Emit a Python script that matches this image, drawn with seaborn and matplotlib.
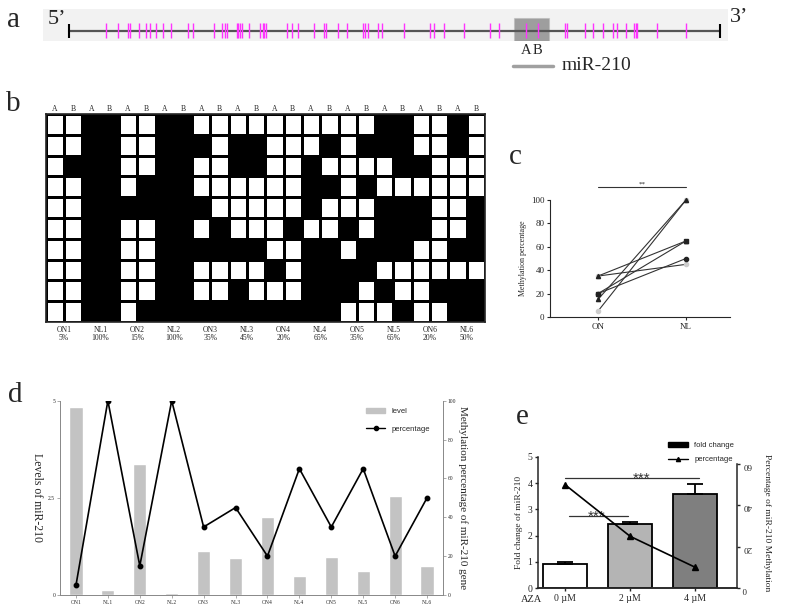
"""
Multi-panel figure: miR-210 promoter methylation and expression.
"""

import numpy as np
import matplotlib
matplotlib.use("Agg")
import matplotlib.pyplot as plt
from matplotlib.patches import Patch, Rectangle
from matplotlib.lines import Line2D
import seaborn as sns

# (a) CpG sites along the sequence (arbitrary units, 0-1000)
CPG_SITES = [56, 75, 90, 94, 107, 118, 125, 133, 144, 156, 182, 190, 222, 235, 239, 242,
             258, 260, 263, 266, 277, 294, 298, 300, 303, 334, 343, 351, 376, 392, 395,
             413, 427, 452, 455, 459, 474, 481, 515, 554, 561, 576, 606, 646, 661, 702,
             720, 761, 764, 793, 804, 820, 836, 841, 856, 868, 870, 873, 903, 948]
SEQ_LEN = 1000
MIR_REGION = (684, 737)
SITE_A, SITE_B = 702, 720

# (b) methylation status of sites A/B per clone (1 = methylated)
SAMPLES = ["ON1", "NL1", "ON2", "NL2", "ON3", "NL3", "ON4", "NL4", "ON5", "NL5", "ON6", "NL6"]
METH_PCT = [5, 100, 15, 100, 35, 45, 20, 65, 35, 65, 20, 50]
AB_LABELS = ["A", "B"] * 12
METH_MAP = [
    [0, 0, 1, 1, 0, 0, 1, 1, 0, 0, 0, 0, 0, 0, 0, 0, 0, 0, 1, 1, 0, 0, 1, 0],
    [0, 0, 1, 1, 0, 0, 1, 1, 1, 0, 1, 1, 0, 0, 0, 1, 0, 1, 1, 1, 0, 0, 1, 0],
    [0, 1, 1, 1, 0, 0, 1, 1, 0, 0, 1, 1, 0, 0, 1, 0, 0, 0, 0, 1, 1, 0, 0, 0],
    [0, 0, 1, 1, 0, 1, 1, 1, 0, 0, 0, 0, 0, 0, 1, 1, 0, 1, 0, 0, 0, 0, 0, 0],
    [0, 0, 1, 1, 1, 1, 1, 1, 1, 0, 0, 0, 0, 0, 1, 0, 0, 0, 1, 1, 1, 0, 0, 1],
    [0, 0, 1, 1, 0, 0, 1, 1, 0, 1, 0, 0, 0, 1, 0, 0, 1, 0, 1, 1, 1, 0, 0, 1],
    [0, 0, 1, 1, 0, 0, 1, 1, 1, 1, 1, 1, 0, 0, 1, 1, 0, 1, 1, 1, 0, 0, 1, 1],
    [0, 0, 1, 1, 0, 0, 1, 1, 0, 0, 0, 0, 1, 0, 1, 1, 1, 1, 0, 0, 0, 0, 0, 0],
    [0, 0, 1, 1, 0, 0, 1, 1, 0, 0, 1, 0, 0, 0, 1, 1, 1, 0, 1, 0, 0, 1, 1, 1],
    [0, 0, 1, 1, 0, 1, 1, 1, 1, 1, 1, 1, 1, 1, 1, 1, 0, 0, 0, 1, 0, 0, 1, 1],
]

# (c) paired ON / NL methylation
ON_PCT = [5, 15, 35, 20, 35, 20]
NL_PCT = [100, 100, 45, 65, 65, 50]
C_MARKERS = ["o", "^", "o", "s", "^", "o"]
C_FACES = ["#cccccc", "#222222", "#cccccc", "#222222", "#222222", "#222222"]

# (d) miR-210 levels per sample
MIR_LEVEL = [4.85, 0.12, 3.36, 0.04, 1.12, 0.94, 2.0, 0.49, 0.98, 0.61, 2.56, 0.74]

# (e) AZA treatment
AZA_DOSE = ["0 µM", "2 µM", "4 µM"]
FOLD = [0.93, 2.45, 3.58]
FOLD_ERR = [0.05, 0.08, 0.38]
AZA_METH = [50, 25, 10]
E_COLORS = ["#ffffff", "#b4b4b4", "#7f7f7f"]

sns.set_style("ticks")
plt.rcParams["font.family"] = ["Liberation Serif", "DejaVu Serif"]
SANS = ["Liberation Sans", "DejaVu Sans"]

W, H = 787, 611
fig = plt.figure(figsize=(W / 100, H / 100), dpi=100)


def px_axes(x0, y0, x1, y1):
    return fig.add_axes([x0 / W, 1 - y1 / H, (x1 - x0) / W, (y1 - y0) / H])


def panel_label(x, y, s):
    fig.text(x / W, 1 - y / H, s, fontsize=21, ha="center", va="center")


# ---- panel a
ax_a = px_axes(43, 9, 728, 41)
ax_a.set_facecolor("#f2f2f2")
ax_a.set_xlim(-40, 1012)
ax_a.set_ylim(0, 1)
for sp in ax_a.spines.values():
    sp.set_visible(False)
ax_a.set_xticks([])
ax_a.set_yticks([])
ax_a.plot([0, SEQ_LEN], [0.31, 0.31], color="#555555", lw=1.6)
ax_a.vlines(CPG_SITES, 0.09, 0.56, color="#ff33ff", lw=1.0)
ax_a.vlines([0, SEQ_LEN], 0.1, 0.52, color="black", lw=1.5)
ax_a.add_patch(Rectangle((MIR_REGION[0], 0), MIR_REGION[1] - MIR_REGION[0], 0.72,
                         facecolor="#666666", alpha=0.6, edgecolor="#bbbbbb", lw=0.8))
ax_a.text(SITE_A, -0.31, "A", ha="center", va="center", fontsize=10.5, clip_on=False)
ax_a.text(SITE_B, -0.31, "B", ha="center", va="center", fontsize=10.5, clip_on=False)
ax_a.plot([682, 743], [-0.78, -0.78], color="#a0a0a0", lw=2.5, clip_on=False)
ax_a.text(756, -0.78, "miR-210", ha="left", va="center", fontsize=14, clip_on=False)
fig.text(57 / W, 1 - 19 / H, "5\u2019", fontsize=16, ha="center", va="center")
fig.text(739 / W, 1 - 18 / H, "3\u2019", fontsize=16, ha="center", va="center")
panel_label(13, 20, "a")

# ---- panel b
ax_b = px_axes(45.7, 114, 485, 322)
sns.heatmap(np.array(METH_MAP), cmap=["white", "black"], vmin=0, vmax=1, cbar=False,
            linewidths=0.8, linecolor="black", xticklabels=AB_LABELS, yticklabels=False,
            ax=ax_b)
ax_b.xaxis.tick_top()
ax_b.tick_params(axis="x", length=0, labelsize=5.5, pad=1, rotation=0)
for sp in ax_b.spines.values():
    sp.set_visible(True)
    sp.set_linewidth(1.2)
for i, (name, p) in enumerate(zip(SAMPLES, METH_PCT)):
    ax_b.text(2 * i + 1, 10.2, f"{name}\n{p}%", ha="center", va="top",
              fontsize=5.5, linespacing=0.9)
panel_label(13, 104, "b")

# ---- panel c
ax_c = px_axes(550, 200, 730, 317)
for on, nl, m, fc in zip(ON_PCT, NL_PCT, C_MARKERS, C_FACES):
    ax_c.plot([0, 1], [on, nl], color="#333333", lw=0.8, marker=m, ms=3,
              mfc=fc, mec=fc, clip_on=False)
ax_c.set_xlim(-0.545, 1.5)
ax_c.set_ylim(0, 100)
ax_c.set_xticks([0, 1])
ax_c.set_xticklabels(["ON", "NL"])
ax_c.set_yticks(range(0, 101, 20))
ax_c.tick_params(labelsize=6.5, length=2.5, width=0.8, pad=1.5)
ax_c.set_ylabel("Methylation percentage", fontsize=5.8, labelpad=3)
sns.despine(ax=ax_c)
for sp in ax_c.spines.values():
    sp.set_linewidth(0.8)
ax_c.plot([0, 1], [111, 111], color="#333333", lw=0.8, clip_on=False)
ax_c.text(0.5, 111.5, "**", ha="center", va="bottom", fontsize=5, clip_on=False)
panel_label(515, 157, "c")

# ---- panel d
ax_d = px_axes(60, 400.7, 443, 595)
sns.barplot(x=SAMPLES, y=MIR_LEVEL, color="#c3c3c3", width=0.41, saturation=1, ax=ax_d)
ax_d.set_xlim(-0.5, 11.5)
ax_d.set_ylim(0, 5)
ax_d.set_yticks([0, 2.5, 5])
ax_d.set_yticklabels(["0", "2.5", "5"])
ax_d.tick_params(labelsize=4, length=2, width=0.5, pad=1.5, color="#888888")
ax_d.set_ylabel("Levels of miR-210", rotation=270, fontsize=8.5)
ax_d.yaxis.set_label_coords(-0.075, 0.5)
ax_d2 = ax_d.twinx()
ax_d2.plot(range(len(SAMPLES)), METH_PCT, color="black", lw=1.2, marker="o", ms=3.2)
ax_d2.set_ylim(0, 100)
ax_d2.set_yticks(range(0, 101, 20))
ax_d2.tick_params(labelsize=4, length=2, width=0.5, pad=1.5, color="#888888")
ax_d2.set_ylabel("Methylation percentage of miR-210 gene", rotation=270, fontsize=8)
ax_d2.yaxis.set_label_coords(1.065, 0.5)
for a in (ax_d, ax_d2):
    a.spines["top"].set_visible(False)
    for sp in ("left", "right", "bottom"):
        a.spines[sp].set_linewidth(0.6)
        a.spines[sp].set_color("#888888")
ax_d2.legend(handles=[Patch(color="#c3c3c3", label="level"),
                      Line2D([], [], color="black", marker="o", ms=3, lw=1, label="percentage")],
             loc="upper left", bbox_to_anchor=(0.78, 1.0), frameon=False,
             prop=dict(family=SANS, size=5.5), handlelength=2.6, labelspacing=1.4)
panel_label(15, 395, "d")

# ---- panel e
ax_e = px_axes(538, 457, 737, 588)
sns.barplot(x=AZA_DOSE, y=FOLD, hue=AZA_DOSE, palette=E_COLORS, legend=False, width=0.68,
            edgecolor="black", linewidth=1.3, saturation=1, ax=ax_e)
ax_e.errorbar(range(len(AZA_DOSE)), FOLD, yerr=[[0] * len(FOLD), FOLD_ERR], fmt="none",
              ecolor="black", elinewidth=1.3, capsize=6, capthick=1.3)
ax_e.set_xlim(-0.415, 2.64)
ax_e.set_ylim(0, 5)
ax_e.set_yticks(range(0, 6))
ax_e.tick_params(labelsize=7, length=2.5, width=1, pad=1.5)
ax_e.set_ylabel("Fold change of miR-210", fontsize=6.8, labelpad=3)
ax_e.spines["top"].set_visible(False)
ax_e.spines["right"].set_visible(False)
ax_e2 = ax_e.twinx()
ax_e2.plot(range(len(AZA_DOSE)), AZA_METH, color="black", lw=1.2, marker="^", ms=4)
ax_e2.set_ylim(0, 63.4)
ax_e2.set_yticks([0, 20, 40, 60])
ax_e2.spines["right"].set_bounds(0, 60)
ax_e2.spines["top"].set_visible(False)
ax_e2.spines["left"].set_visible(False)
ax_e2.tick_params(labelsize=6.5, length=2.5, width=1, pad=1.5)
for lab in ax_e2.get_yticklabels():
    lab.set_rotation(180)
ax_e2.set_ylabel("Percentage of miR-210 Methylation", rotation=270, fontsize=6.8)
ax_e2.yaxis.set_label_coords(1.17, 0.5)
for a in (ax_e, ax_e2):
    for sp in a.spines.values():
        sp.set_linewidth(1.1)
ax_e.plot([0, 2.05], [4.2, 4.2], color="#333333", lw=0.9)
ax_e.text(1.17, 4.2 - 0.19, "***", ha="center", va="baseline", fontsize=11,
          family=SANS, color="#333333")
ax_e.plot([0.06, 0.97], [2.75, 2.75], color="#333333", lw=0.9)
ax_e.text(0.49, 2.75 - 0.19, "***", ha="center", va="baseline", fontsize=11,
          family=SANS, color="#333333")
ax_e2.legend(handles=[Patch(color="black", label="fold change"),
                      Line2D([], [], color="black", marker="^", ms=3, lw=1, label="percentage")],
             loc="upper left", bbox_to_anchor=(0.62, 1.17), frameon=False,
             prop=dict(family=SANS, size=5.5), handlelength=2.6, labelspacing=0.9)
fig.text(532 / W, 1 - 600 / H, "AZA", fontsize=7.5, ha="center", va="center")
panel_label(522, 417, "e")

fig.savefig("out.png", dpi=100)
